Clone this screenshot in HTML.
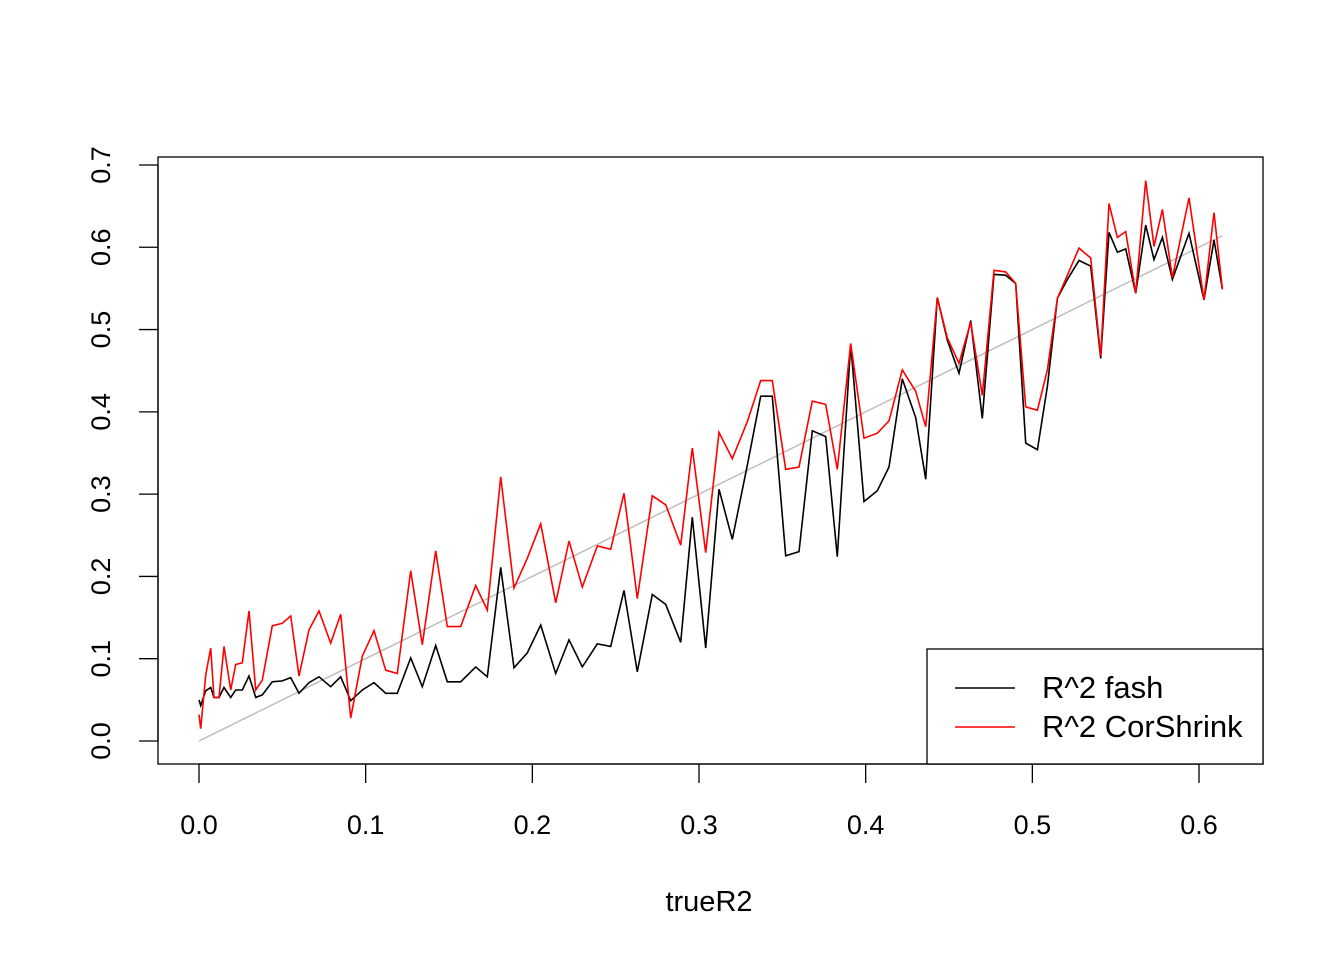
<!DOCTYPE html>
<html><head><meta charset="utf-8"><style>
body{margin:0;background:#fff}
svg{display:block;font-family:"Liberation Sans",Arial,sans-serif}
</style></head><body>
<svg id="c" width="1344" height="960"></svg>
<script>
const xs=[0,.001,.004,.007,.009,.012,.015,.019,.022,.026,.030,.034,.038,.044,.050,.055,.060,.066,.072,.079,.085,.091,.098,.105,.112,.119,.127,.134,.142,.149,.157,.166,.173,.181,.189,.197,.205,.214,.222,.230,.239,.247,.255,.263,.272,.280,.289,.296,.304,.312,.320,.329,.337,.344,.352,.360,.368,.376,.383,.391,.399,.407,.414,.422,.430,.436,.443,.449,.456,.463,.470,.477,.484,.490,.496,.503,.509,.515,.521,.528,.535,.541,.546,.551,.556,.562,.568,.573,.578,.584,.594,.603,.609,.614];
const fash=[.05,.043,.061,.065,.053,.053,.065,.053,.062,.062,.079,.053,.056,.072,.073,.077,.058,.071,.078,.066,.078,.049,.062,.071,.058,.058,.101,.066,.116,.072,.072,.090,.078,.211,.089,.107,.141,.082,.123,.090,.118,.115,.183,.084,.178,.166,.120,.272,.113,.306,.245,.335,.419,.419,.225,.230,.377,.370,.224,.482,.291,.304,.333,.440,.393,.318,.539,.487,.447,.511,.392,.567,.566,.556,.362,.354,.431,.538,.561,.584,.577,.465,.618,.594,.598,.544,.627,.585,.612,.561,.617,.536,.609,.549];
const cor=[.032,.015,.08,.113,.053,.053,.115,.062,.093,.095,.158,.062,.074,.140,.143,.152,.079,.135,.158,.119,.154,.028,.103,.134,.086,.082,.207,.117,.231,.139,.139,.189,.159,.321,.186,.222,.264,.168,.243,.187,.237,.233,.301,.173,.298,.287,.238,.356,.229,.375,.343,.388,.438,.438,.330,.333,.413,.409,.330,.483,.368,.374,.389,.451,.425,.382,.539,.490,.459,.509,.420,.572,.570,.556,.406,.402,.451,.538,.566,.599,.587,.468,.653,.612,.619,.544,.681,.601,.646,.563,.660,.536,.642,.549];
const xTicks=[0,0.1,0.2,0.3,0.4,0.5,0.6];
const yTicks=[0,0.1,0.2,0.3,0.4,0.5,0.6,0.7];
const X=v=>199+v*1666.7, Y=v=>741-v*822.9;
const svg=document.getElementById('c');const NS='http://www.w3.org/2000/svg';
function mk(t,a,txt){const e=document.createElementNS(NS,t);for(const k in a)e.setAttribute(k,a[k]);if(txt!=null)e.textContent=txt;svg.appendChild(e);return e;}
let e;
e=mk('rect',{x:158,y:157,width:1105,height:607,fill:'none',stroke:'#000','stroke-width':1.3});


e=mk('line',{x1:X(0),y1:764,x2:X(0.6),y2:764,stroke:'#000','stroke-width':1.3});


xTicks.forEach(t=>{
 e=mk('line',{x1:X(t),y1:764,x2:X(t),y2:783,stroke:'#000','stroke-width':1.3});
 
 
 e=mk('text',{x:X(t),y:834,'font-size':27,'text-anchor':'middle'},t.toFixed(1));
 
 
});
e=mk('line',{x1:158,y1:Y(0),x2:158,y2:Y(0.7),stroke:'#000','stroke-width':1.3});


yTicks.forEach(t=>{
 e=mk('line',{x1:139,y1:Y(t),x2:158,y2:Y(t),stroke:'#000','stroke-width':1.3});
 
 
 e=mk('text',{x:0,y:0,'font-size':27,'text-anchor':'middle',transform:`translate(110,${Y(t)}) rotate(-90)`},t.toFixed(1));
 
 
});
e=mk('text',{x:709,y:911,'font-size':29,'text-anchor':'middle'},'trueR2');


e=mk('line',{x1:X(0),y1:Y(0),x2:X(xs[xs.length-1]),y2:Y(xs[xs.length-1]),stroke:'#bebebe','stroke-width':1.5});


const pts=a=>a.map((v,i)=>X(xs[i]).toFixed(1)+','+Y(v).toFixed(1)).join(' ');
e=mk('polyline',{points:pts(fash),fill:'none',stroke:'#000','stroke-width':1.6});


e=mk('polyline',{points:pts(cor),fill:'none',stroke:'#ff0000','stroke-width':1.6});


e=mk('rect',{x:927,y:649,width:336,height:115,fill:'#fff',stroke:'#000','stroke-width':1.3});


[['#000','R^2 fash',688],['#ff0000','R^2 CorShrink',727]].forEach(([c,l,y])=>{
 e=mk('line',{x1:955,y1:y,x2:1015,y2:y,stroke:c,'stroke-width':1.6});
 
 
 e=mk('text',{x:1042,y:y+10,'font-size':31},l);
 
 
});
</script>
</body></html>
